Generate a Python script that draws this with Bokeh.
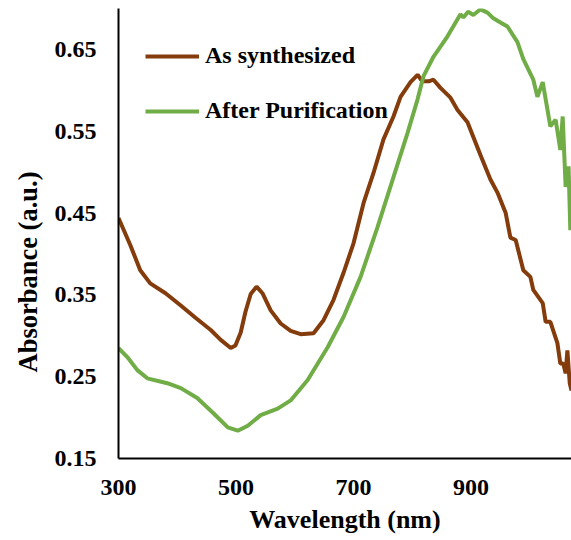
import math
from bokeh.plotting import figure
from bokeh.models import Range1d, FixedTicker, Legend, LegendItem, Title
from bokeh.embed import file_html
from bokeh.resources import INLINE

# Data
wl_as = [300, 320, 337, 354, 380, 406, 431, 457, 474, 491, 499, 508, 516, 525, 535, 545,
         559, 576, 593, 610, 632, 649, 666, 683, 700, 717, 734, 751, 768, 780, 797, 809,
         817, 828, 836, 848, 865, 877, 894, 916, 933, 945, 959, 967, 976, 989, 1001, 1006,
         1022, 1027, 1035, 1047, 1052, 1057, 1061, 1064, 1068, 1071]
abs_as = [0.444, 0.411, 0.380, 0.364, 0.352, 0.337, 0.322, 0.307, 0.295, 0.285, 0.288,
          0.304, 0.329, 0.351, 0.360, 0.352, 0.331, 0.315, 0.306, 0.302, 0.303, 0.319,
          0.344, 0.377, 0.413, 0.462, 0.499, 0.540, 0.568, 0.592, 0.610, 0.619, 0.611,
          0.611, 0.613, 0.603, 0.591, 0.576, 0.561, 0.521, 0.491, 0.475, 0.450, 0.420,
          0.417, 0.380, 0.372, 0.356, 0.340, 0.317, 0.317, 0.291, 0.266, 0.266, 0.254,
          0.282, 0.242, 0.233]

wl_pur = [300, 315, 332, 349, 383, 406, 434, 462, 486, 503, 520, 542, 571, 593, 622, 656,
          683, 712, 741, 768, 792, 809, 819, 836, 860, 882, 887, 895, 904, 916, 928, 938,
          950, 962, 979, 989, 1006, 1013, 1022, 1035, 1044, 1052, 1056, 1061, 1066, 1069]
abs_pur = [0.285, 0.274, 0.258, 0.248, 0.242, 0.236, 0.224, 0.205, 0.188, 0.184, 0.190,
           0.203, 0.211, 0.221, 0.246, 0.286, 0.323, 0.372, 0.433, 0.494, 0.548, 0.589,
           0.617, 0.641, 0.666, 0.693, 0.689, 0.696, 0.692, 0.699, 0.695, 0.688, 0.683,
           0.678, 0.659, 0.638, 0.613, 0.592, 0.610, 0.556, 0.564, 0.527, 0.568, 0.482,
           0.507, 0.429]

x_ticks = [300, 500, 700, 900]
y_ticks = [0.15, 0.25, 0.35, 0.45, 0.55, 0.65]
series_names = ["As synthesized", "After Purification"]
series_colors = ["#843C0C", "#70AD47"]

FONT = "Liberation Serif"

p = figure(frame_width=453, frame_height=450, output_backend="svg", toolbar_location=None,
           x_range=Range1d(300, 1071), y_range=Range1d(0.15, 0.70),
           min_border_left=118, min_border_right=0, min_border_top=8, min_border_bottom=82)
p.outline_line_color = None
p.grid.visible = False
p.background_fill_color = "white"
p.border_fill_color = "white"

r1 = p.line(wl_as, abs_as, line_color=series_colors[0], line_width=4)
r2 = p.line(wl_pur, abs_pur, line_color=series_colors[1], line_width=4)

for ax in (p.xaxis[0], p.yaxis[0]):
    ax.axis_line_color = "black"
    ax.axis_line_width = 2
    ax.major_tick_line_color = None
    ax.minor_tick_line_color = None
    ax.major_label_text_font = FONT
    ax.major_label_text_font_style = "bold"
    ax.major_label_text_font_size = "24px"
    ax.major_label_text_color = "black"

p.xaxis.ticker = FixedTicker(ticks=x_ticks)
p.yaxis.ticker = FixedTicker(ticks=y_ticks)
p.yaxis.major_label_overrides = {t: f"{t:.2f}" for t in y_ticks}
p.xaxis.major_label_standoff = 15
p.yaxis.major_label_standoff = 16

p.xaxis.axis_label = "Wavelength (nm)"
p.xaxis.axis_label_text_font = FONT
p.xaxis.axis_label_text_font_style = "bold"
p.xaxis.axis_label_text_font_size = "26px"
p.xaxis.axis_label_text_color = "black"
p.xaxis.axis_label_standoff = 7

ytitle = Title(text="Absorbance (a.u.)", align="left", offset=86, standoff=18,
               text_font=FONT, text_font_style="bold", text_font_size="26.5px",
               text_color="black")
p.add_layout(ytitle, "left")

legend = Legend(items=[LegendItem(label=series_names[0], renderers=[r1]),
                       LegendItem(label=series_names[1], renderers=[r2])],
                location=(27, 334), glyph_width=54, glyph_height=20, label_height=20,
                spacing=28, label_standoff=6, padding=0, margin=0,
                background_fill_alpha=0, border_line_color=None,
                label_text_font=FONT, label_text_font_style="bold",
                label_text_font_size="24px", label_text_color="black")
p.add_layout(legend)

open("out.html", "w").write(file_html(p, INLINE))
